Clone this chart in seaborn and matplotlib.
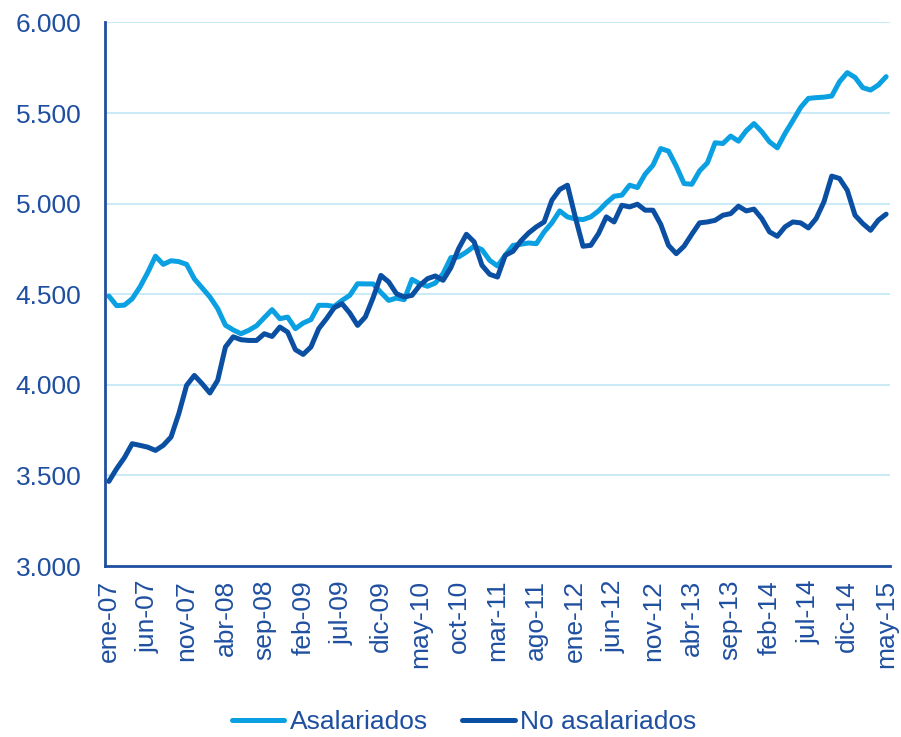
import matplotlib
matplotlib.use("Agg")
import matplotlib.pyplot as plt
import seaborn as sns
import pandas as pd
import numpy as np

# Monthly series, ene-07 .. may-15 (101 months)
nombres_mes = ["ene", "feb", "mar", "abr", "may", "jun",
               "jul", "ago", "sep", "oct", "nov", "dic"]
meses = [f"{m}-{a:02d}" for a in range(7, 16) for m in nombres_mes][:101]

asalariados = [
    4490, 4437, 4440, 4475, 4540, 4620, 4710, 4665, 4685, 4680,
    4665, 4585, 4535, 4485, 4421, 4329, 4303, 4282, 4301, 4326,
    4371, 4415, 4365, 4374, 4310, 4341, 4360, 4439, 4439, 4433,
    4466, 4494, 4558, 4557, 4557, 4510, 4466, 4479, 4470, 4582,
    4558, 4544, 4562, 4614, 4702, 4706, 4733, 4765, 4746, 4687,
    4656, 4715, 4770, 4776, 4783, 4779, 4844, 4894, 4960, 4927,
    4916, 4912, 4927, 4960, 5004, 5041, 5047, 5102, 5089, 5163,
    5212, 5304, 5290, 5207, 5111, 5107, 5181, 5225, 5336, 5332,
    5373, 5345, 5402, 5442, 5397, 5341, 5308, 5388, 5458, 5531,
    5581, 5585, 5588, 5594, 5673, 5723, 5697, 5640, 5627, 5655,
    5701,
]

no_asalariados = [
    3467, 3537, 3598, 3675, 3666, 3656, 3638, 3666, 3712, 3841,
    3997, 4052, 4006, 3955, 4025, 4209, 4265, 4249, 4245, 4245,
    4282, 4267, 4319, 4291, 4194, 4168, 4209, 4310, 4365, 4426,
    4448, 4396, 4328, 4375, 4481, 4604, 4568, 4503, 4485, 4494,
    4549, 4586, 4601, 4577, 4647, 4752, 4831, 4789, 4660, 4610,
    4595, 4715, 4737, 4794, 4838, 4872, 4899, 5019, 5078, 5102,
    4927, 4765, 4770, 4835, 4927, 4899, 4991, 4982, 4997, 4964,
    4964, 4886, 4770, 4724, 4765, 4831, 4894, 4899, 4908, 4936,
    4945, 4986, 4960, 4970, 4918, 4844, 4820, 4872, 4899, 4894,
    4866, 4918, 5010, 5152, 5139, 5074, 4936, 4890, 4853, 4909,
    4942,
]

y_ticks = [3000, 3500, 4000, 4500, 5000, 5500, 6000]
y_labels = ["3.000", "3.500", "4.000", "4.500", "5.000", "5.500", "6.000"]

series = ["Asalariados", "No asalariados"]
colores = ["#0AA0E2", "#0B4FA2"]
texto = "#1F4FA0"
rejilla = "#C6E8F8"

df = pd.DataFrame({"idx": np.arange(len(meses)),
                   "Asalariados": asalariados,
                   "No asalariados": no_asalariados})
df_long = df.melt(id_vars="idx", var_name="serie", value_name="valor")

sns.set_style("white")
plt.rcParams["font.family"] = ["Liberation Sans", "DejaVu Sans"]

fig = plt.figure(figsize=(9.01, 7.37), dpi=100)
ax = fig.add_axes([0.1165, 0.232, 0.8713, 0.7375])

sns.lineplot(data=df_long, x="idx", y="valor", hue="serie", hue_order=series,
             palette=colores, linewidth=3.6, ax=ax, legend=False)
for ln in ax.get_lines():
    ln.set_solid_joinstyle("round")
    ln.set_solid_capstyle("round")

ax.set_xlim(-0.5, len(meses) - 0.5)
ax.set_ylim(3000, 6000)
ax.set_xlabel("")
ax.set_ylabel("")

# y axis
ax.set_yticks(y_ticks)
ax.set_yticklabels(y_labels)
ax.yaxis.grid(True, color=rejilla, linewidth=1.3)
ax.set_axisbelow(True)
ax.tick_params(axis="y", which="major", direction="out", length=6, width=2,
               color=texto, labelcolor=texto, labelsize=19, pad=11)

# x axis: labels at every 5th month, tick marks at category boundaries
pos = list(range(0, len(meses), 5))
ax.set_xticks(pos)
ax.set_xticklabels([meses[i] for i in pos], rotation=90)
ax.set_xticks([p - 0.5 for p in pos], minor=True)
ax.tick_params(axis="x", which="major", length=0, labelcolor=texto,
               labelsize=19, pad=10)
ax.tick_params(axis="x", which="minor", direction="out", length=6, width=2,
               color=texto)

for s in ["top", "right"]:
    ax.spines[s].set_visible(False)
for s in ["left", "bottom"]:
    ax.spines[s].set_color(texto)
    ax.spines[s].set_linewidth(2)

handles = ax.get_lines()[:2]
fig.legend(handles, series, loc="center", bbox_to_anchor=(464 / 901, 1 - 722 / 737),
           ncol=2, frameon=False, fontsize=19, labelcolor=texto,
           handlelength=2.0, handletextpad=0.2, columnspacing=1.3)

fig.savefig("out.png", dpi=100)
